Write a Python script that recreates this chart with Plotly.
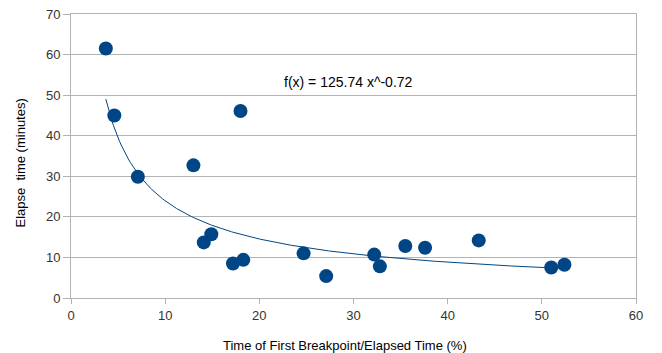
import numpy as np
import plotly.graph_objects as go

x_vals = [3.7, 4.6, 7.1, 13.0, 18.0, 14.1, 14.9, 17.2, 18.3, 24.7, 27.1,
          32.2, 32.8, 35.5, 37.6, 43.3, 51.0, 52.4]
y_vals = [61.5, 45.0, 29.9, 32.7, 46.1, 13.7, 15.7, 8.5, 9.4, 11.0, 5.4,
          10.7, 7.8, 12.8, 12.4, 14.2, 7.5, 8.2]
coef_a = 125.74
coef_b = -0.72
x_ticks = [0, 10, 20, 30, 40, 50, 60]
y_ticks = [0, 10, 20, 30, 40, 50, 60, 70]

blue = "#004586"
grid = "#b3b3b3"

xf = np.linspace(min(x_vals), max(x_vals), 300)
yf = coef_a * xf ** coef_b

fig = go.Figure()
fig.add_trace(go.Scatter(x=xf, y=yf, mode="lines",
                         line=dict(color=blue, width=1), hoverinfo="skip"))
fig.add_trace(go.Scatter(x=x_vals, y=y_vals, mode="markers",
                         marker=dict(color=blue, size=14, line=dict(width=0))))

fig.add_annotation(x=29.5, y=53.3, xref="x", yref="y",
                   text="f(x) = 125.74 x^-0.72", showarrow=False,
                   font=dict(size=14, color="#000000"))
fig.add_annotation(x=0.485, y=-0.1655, xref="paper", yref="paper",
                   text="Time of First Breakpoint/Elapsed Time (%)", showarrow=False,
                   xanchor="center", yanchor="middle",
                   font=dict(size=13, color="#000000"))
fig.add_annotation(x=-0.090, y=0.474, xref="paper", yref="paper",
                   text="Elapse\u00a0 time (minutes)", showarrow=False, textangle=-90,
                   xanchor="center", yanchor="middle",
                   font=dict(size=13, color="#000000"))

fig.update_layout(
    width=662, height=353,
    margin=dict(l=71, r=26, t=14, b=55, autoexpand=False),
    plot_bgcolor="white", paper_bgcolor="white",
    showlegend=False,
    font=dict(family="Liberation Sans, Arial, sans-serif", size=13, color="#000000"),
)
fig.update_xaxes(range=[0, 60], tickvals=x_ticks, showgrid=False, zeroline=False,
                 showline=True, linecolor=grid, linewidth=1, mirror=True,
                 ticks="outside", ticklen=5, tickcolor=grid, automargin=False,
                 tickfont=dict(size=13, color="#333333"))
fig.update_yaxes(range=[0, 70], tickvals=y_ticks, showgrid=True, gridcolor=grid,
                 gridwidth=1, zeroline=False, automargin=False,
                 showline=True, linecolor=grid, linewidth=1, mirror=True,
                 ticks="outside", ticklen=7, tickcolor=grid,
                 tickfont=dict(size=13, color="#333333"))

fig.write_html("out.html", config={"displayModeBar": False},
               post_script="document.body.style.margin='0';document.body.style.overflow='hidden';")
